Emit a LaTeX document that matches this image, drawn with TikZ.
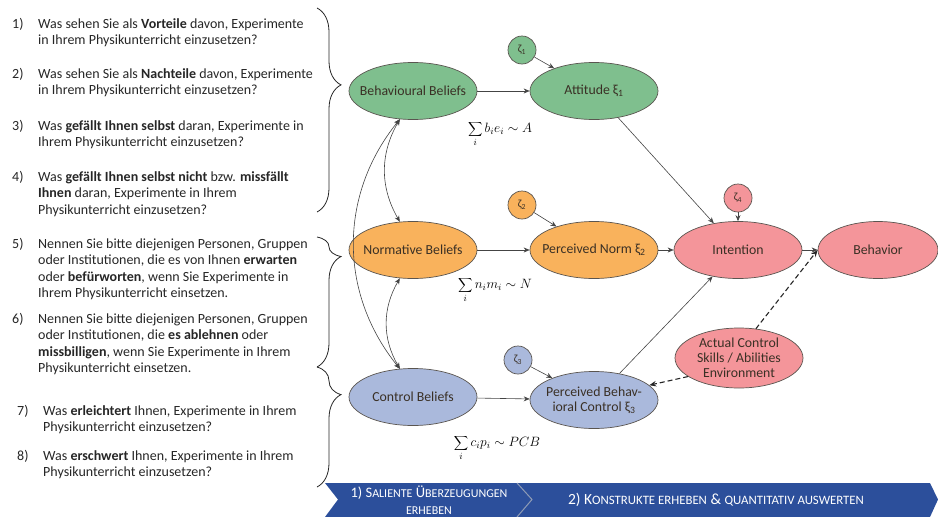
\RequirePackage{fix-cm}
\documentclass[tikz,border=0pt]{standalone}
\usepackage{fontspec}
\setmainfont{Carlito}
\usetikzlibrary{shapes.geometric,arrows.meta,decorations.pathreplacing}
\definecolor{gruen}{HTML}{7FBF8E}
\definecolor{orange}{HTML}{F9B25C}
\definecolor{blau}{HTML}{AAB9DC}
\definecolor{rot}{HTML}{F4959A}
\definecolor{rand}{HTML}{5A5550}
\definecolor{schrift}{HTML}{3A3025}
\definecolor{pfeilgrau}{HTML}{444444}
\definecolor{balken}{HTML}{2C4F9B}
\definecolor{trenner}{HTML}{8E9BB5}
\newcommand{\kap}[1]{{\fontsize{12}{14}\selectfont\MakeUppercase{#1}}}
\newcommand{\kapp}[1]{{\fontsize{12.8}{14}\selectfont\MakeUppercase{#1}}}

\begin{document}
\begin{tikzpicture}[x=1pt,y=1pt,
  ell/.style={ellipse, draw=rand, line width=0.7pt, minimum width=128pt, minimum height=57pt,
    inner xsep=-14pt, inner ysep=-6pt, text=schrift, align=center, font=\fontsize{13.8}{15}\selectfont},
  zeta/.style={circle, draw=rand, line width=0.7pt, minimum size=28pt, inner sep=0pt,
    text=schrift, font=\fontsize{11}{12}\selectfont},
  pfeil/.style={-{Stealth[length=6pt,width=5pt]}, draw=pfeilgrau, line width=0.6pt},
  beide/.style={{Stealth[length=6pt,width=5pt]}-{Stealth[length=6pt,width=5pt]}, draw=pfeilgrau, line width=0.6pt},
  gestr/.style={-{Stealth[length=7pt,width=5.5pt]}, draw=black!85, line width=1.1pt, dash pattern=on 5pt off 3pt},
  nr/.style={anchor=base west, inner sep=0pt, text=black!85, font=\fontsize{14}{16.5}\selectfont},
  frage/.style={anchor=base west, inner sep=0pt, align=left, text=black!85, font=\fontsize{14}{16.5}\selectfont},
  formel/.style={inner sep=0pt, font=\fontsize{13.5}{15}\selectfont},
  klammer/.style={decorate, line width=0.8pt, draw=black!85},
]
\useasboundingbox (0,0) rectangle (938,-517);

% Fragen links (base = letzte Zeile)
\node[nr] (n1) at (12,-28) {1)};
\node[frage] (q1) at (38,-44.5) {Was sehen Sie als \textbf{Vorteile} davon, Experimente\\in Ihrem Physikunterricht einzusetzen?};
\node[nr] (n2) at (12,-78) {2)};
\node[frage] (q2) at (38,-94.5) {Was sehen Sie als \textbf{Nachteile} davon, Experimente\\in Ihrem Physikunterricht einzusetzen?};
\node[nr] (n3) at (12,-130) {3)};
\node[frage] (q3) at (38,-146.5) {Was \textbf{gefällt Ihnen selbst} daran, Experimente in\\Ihrem Physikunterricht einzusetzen?};
\node[nr] (n4) at (12,-181) {4)};
\node[frage] (q4) at (38,-214) {Was \textbf{gefällt Ihnen selbst nicht} bzw. \textbf{missfällt}\\\textbf{Ihnen} daran, Experimente in Ihrem\\Physikunterricht einzusetzen?};
\node[nr] (n5) at (12,-248) {5)};
\node[frage] (q5) at (38,-297.5) {Nennen Sie bitte diejenigen Personen, Gruppen\\oder Institutionen, die es von Ihnen \textbf{erwarten}\\oder \textbf{befürworten}, wenn Sie Experimente in\\Ihrem Physikunterricht einsetzen.};
\node[nr] (n6) at (12,-323) {6)};
\node[frage] (q6) at (38,-372.5) {Nennen Sie bitte diejenigen Personen, Gruppen\\oder Institutionen, die \textbf{es ablehnen} oder\\\textbf{missbilligen}, wenn Sie Experimente in Ihrem\\Physikunterricht einsetzen.};
\node[nr] (n7) at (17,-415) {7)};
\node[frage] (q7) at (43,-431.5) {Was \textbf{erleichtert} Ihnen, Experimente in Ihrem\\Physikunterricht einzusetzen?};
\node[nr] (n8) at (17,-460) {8)};
\node[frage] (q8) at (43,-476.5) {Was \textbf{erschwert} Ihnen, Experimente in Ihrem\\Physikunterricht einzusetzen?};

% Klammern
\draw[klammer, decoration={brace, amplitude=24pt, aspect=0.377}] (317,-8) -- (317,-212);
\draw[klammer, decoration={brace, amplitude=24pt, aspect=0.15}] (317,-237) -- (317,-367);
\draw[klammer, decoration={brace, amplitude=24pt, aspect=0.23}] (317,-367) -- (317,-487);

% Ellipsen
\node[ell, fill=gruen] (bb) at (413,-91) {Behavioural Beliefs};
\node[ell, fill=gruen] (att) at (594,-91) {Attitude ξ\textsubscript{1}};
\node[ell, fill=orange] (nb) at (413,-250) {Normative Beliefs};
\node[ell, fill=orange] (pn) at (594,-250) {Perceived Norm ξ\textsubscript{2}};
\node[ell, fill=blau] (cb) at (413,-397) {Control Beliefs};
\node[ell, fill=blau] (pbc) at (594,-400) {Perceived Behav-\\ioral Control ξ\textsubscript{3}};
\node[ell, fill=rot] (int) at (738,-250) {Intention};
\node[ell, fill=rot, minimum width=120pt] (beh) at (878,-250) {Behavior};
\node[ell, fill=rot, minimum height=60pt] (ac) at (739,-358) {Actual Control\\Skills / Abilities\\Environment};

% Stoergroessen
\node[zeta, fill=gruen] (z1) at (522,-50) {ζ\textsubscript{1}};
\node[zeta, fill=orange] (z2) at (522,-205) {ζ\textsubscript{2}};
\node[zeta, fill=blau] (z3) at (518,-360) {ζ\textsubscript{3}};
\node[zeta, fill=rot] (z4) at (738,-198) {ζ\textsubscript{4}};

% Summen
\node[formel] (sa) at (500,-134) {$\displaystyle\sum_i b_i e_i \sim A$};
\node[formel] (sn) at (495,-290) {$\displaystyle\sum_i n_i m_i \sim N$};
\node[formel] (sc) at (497,-448) {$\displaystyle\sum_i c_i p_i \sim PCB$};

% Pfeile
\draw[pfeil] (bb) -- (att);
\draw[pfeil] (nb) -- (pn);
\draw[pfeil] (cb) -- (pbc);
\draw[pfeil] (z1) -- (att);
\draw[pfeil] (z2) -- (pn);
\draw[pfeil] (z3) -- (pbc);
\draw[pfeil] (z4) -- (int);
\draw[pfeil] (att) -- (int);
\draw[pfeil] (pn) -- (int);
\draw[pfeil] (pbc) -- (int);
\draw[pfeil] (int) -- (beh);
\draw[gestr] (ac.60) -- (beh.west);
\draw[gestr] (ac.200) -- (pbc.15);

\draw[beide] (bb.245) to[bend right=30] (nb.115);
\draw[beide] (nb.245) to[bend right=30] (cb.115);
\draw[beide] (bb.245) to[bend right=39] (cb.115);

% Balken unten
\fill[balken] (325,-483) -- (517,-483) -- (532,-499.5) -- (517,-517) -- (325,-517) -- (338,-499.5) -- cycle;
\fill[balken] (517,-483) -- (930,-483) -- (938,-499.5) -- (930,-517) -- (517,-517) -- (532,-499.5) -- cycle;
\draw[trenner, line width=1pt] (517,-483) -- (532,-499.5) -- (517,-517);
\node[text=white, align=center, inner sep=0pt, font=\fontsize{14.5}{17}\selectfont] (s1) at (429,-500)
  {1) S\kap{aliente} Ü\kap{berzeugungen}\\\kap{erheben}};
\node[text=white, inner sep=0pt, font=\fontsize{15.5}{16}\selectfont] (s2) at (716,-500)
  {2) K\kapp{onstrukte erheben} \& \kapp{quantitativ auswerten}};
\end{tikzpicture}
\end{document}
